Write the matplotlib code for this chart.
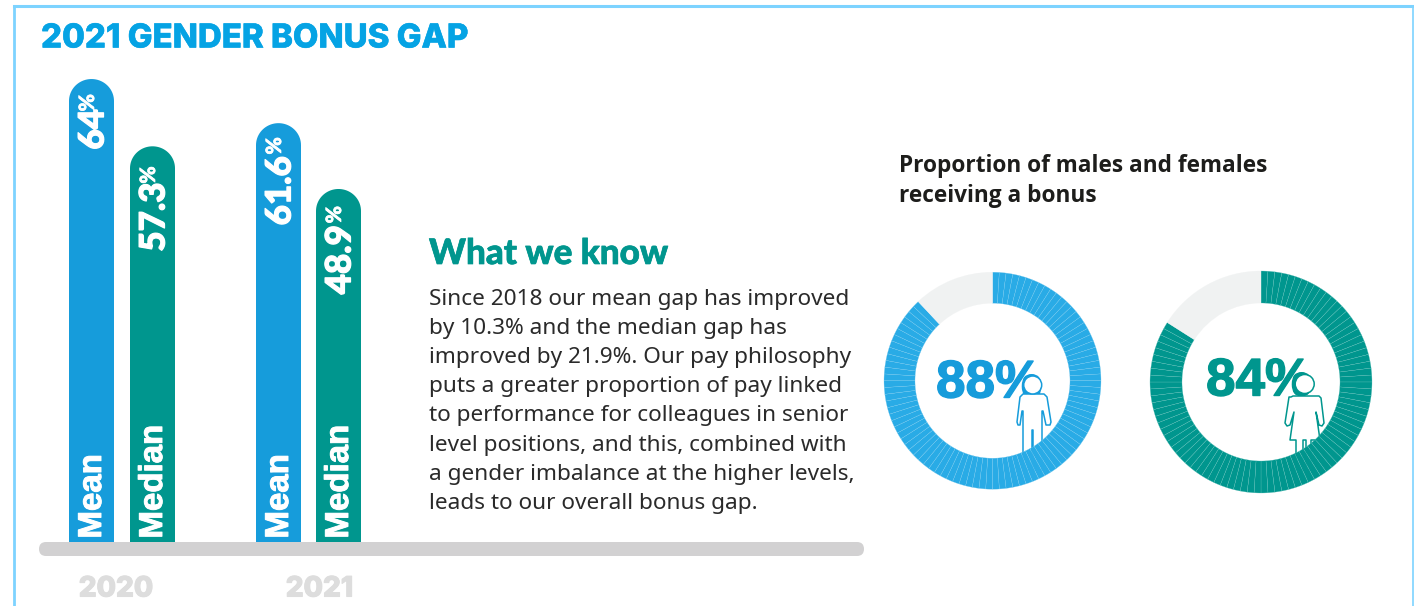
import numpy as np
import matplotlib
matplotlib.use('Agg')
import matplotlib.pyplot as plt
import matplotlib.patheffects as pe
from matplotlib.patches import Circle, FancyBboxPatch, Polygon

W, H = 1414, 606

# bar lengths (they don't quite follow the printed numbers)
bar_heights = [64, 54.7, 57.9, 48.8]
bar_numbers = ['64', '57.3', '61.6', '48.9']
bar_names = ['Mean', 'Median', 'Mean', 'Median']
years = ['2020', '2021']
donut_values = [88, 84]
donut_labels = ['88%', '84%']

title = '2021 GENDER BONUS GAP'
heading = 'What we know'
body_lines = [
    'Since 2018 our mean gap has improved',
    'by 10.3% and the median gap has',
    'improved by 21.9%. Our pay philosophy',
    'puts a greater proportion of pay linked',
    'to performance for colleagues in senior',
    'level positions, and this, combined with',
    'a gender imbalance at the higher levels,',
    'leads to our overall bonus gap.',
]
sub_lines = ['Proportion of males and females', 'receiving a bonus']

BLUE = '#169cdb'
RING_BLUE = '#29abe6'
TEAL = '#00968e'
GREY = '#f0f2f2'
BASE = '#d2d1d2'
YEAR = '#dddddd'
FRAME = '#7dd3ff'
TEXT = '#2a2a2a'


def Y(y):
    return H - y


def px(s):
    # font size in points for a size given in pixels
    return s * 72 / 100


def heavy(col, w=1.0):
    # the installed heavy weights come out too light, fatten them a bit
    return [pe.withStroke(linewidth=w, foreground=col)]


fig = plt.figure(figsize=(W / 100, H / 100), dpi=100)
ax = fig.add_axes([0, 0, 1, 1])

# frame
ax.plot([14, 14], [Y(606), Y(6)], color=FRAME, lw=2.0, zorder=1)
ax.plot([14, 1413], [Y(6), Y(6)], color=FRAME, lw=2.2, zorder=1)
ax.plot([1413, 1413], [Y(6), Y(606)], color=FRAME, lw=1.2, zorder=1)

ax.text(41, Y(39), title, color='#05a3e4', fontsize=px(33), fontweight=800,
        family='Inter', va='center', ha='left', path_effects=heavy('#05a3e4', 0.4))

# baseline
ax.add_patch(FancyBboxPatch((39, Y(556)), 825, 14, boxstyle='round,pad=0,rounding_size=7',
                            lw=0, fc=BASE, zorder=1))
ax.text(116, Y(589), years[0], color=YEAR, fontsize=px(28), fontweight=800, family='Inter',
        ha='center', va='center', path_effects=heavy(YEAR, 0.8))
ax.text(319.5, Y(589), years[1], color=YEAR, fontsize=px(28), fontweight=800, family='Inter',
        ha='center', va='center', path_effects=heavy(YEAR, 0.8))

# middle text
ax.text(429, Y(254), heading, color=TEAL, fontsize=px(35), fontweight=900, family='Lato',
        ha='left', va='center', path_effects=heavy(TEAL, 0.5))
for i, line in enumerate(body_lines):
    ax.text(429, Y(299.5 + i * 29.1), line, color=TEXT, fontsize=px(22.6), family='Noto Sans',
            ha='left', va='center')
for i, line in enumerate(sub_lines):
    ax.text(899, Y(166 + i * 30), line, color='#1d1d1b', fontsize=px(22.6), family='Open Sans',
            fontweight=700, ha='left', va='center')

# donuts: one slice per percent, the thin lines between them are the slice edges
centres = [(992.5, 380.7), (1261, 382)]
radii = [(108.5, 77.5), (111, 79)]
ring_cols = [RING_BLUE, TEAL]
line_cols = ['#7cccf0', '#66c4bd']
text_cols = [BLUE, TEAL]
text_x = [989, 1259]
text_y = [378, 376]
for val, (cx, cy), (ro, ri), rc, lc, lab, tc, tx, ty in zip(donut_values, centres, radii, ring_cols,
                                                            line_cols, donut_labels, text_cols,
                                                            text_x, text_y):
    wedges, _ = ax.pie([1] * val + [100 - val], center=(cx, Y(cy)), radius=ro, startangle=90,
                       counterclock=False, colors=[rc] * val + [GREY], frame=True,
                       wedgeprops=dict(width=ro - ri, edgecolor=lc, linewidth=0.2))
    wedges[-1].set_edgecolor(GREY)
    for w in wedges:
        w.set_zorder(6)
    ax.text(tx, Y(ty), lab, color=tc, fontsize=px(53), fontweight='bold', family='Liberation Sans',
            ha='center', va='center_baseline', zorder=3, path_effects=heavy(tc, 1.0))

# person icons, pushed under the rings
male = [(1017, 422), (1020, 397), (1023, 394), (1044, 394), (1047, 397), (1051, 422),
        (1050, 425), (1046, 425), (1043, 411), (1042, 411), (1042, 470), (1033, 470),
        (1033, 430), (1032, 430), (1032, 470), (1023, 470), (1023, 411), (1022, 411),
        (1020, 425), (1018, 425)]
female = [(1285, 423), (1289, 397), (1291, 397), (1293, 396), (1319, 396), (1321, 398),
          (1324, 423), (1322, 426), (1319, 425), (1316, 412), (1320, 440), (1311, 440),
          (1311, 470), (1306, 470), (1306, 440), (1303, 440), (1303, 470), (1296, 470),
          (1296, 440), (1290, 440), (1294, 412), (1290, 425), (1287, 426)]
ax.add_patch(Polygon([(x, Y(y)) for x, y in male], closed=True, fc='white', ec=BLUE, lw=1.1,
                     zorder=4, joinstyle='round'))
ax.add_patch(Circle((1032.7, Y(385)), 9, fc='white', ec=BLUE, lw=1.1, zorder=5))
ax.add_patch(Polygon([(x, Y(y)) for x, y in female], closed=True, fc='white', ec=TEAL, lw=1.1,
                     zorder=4, joinstyle='round'))
ax.add_patch(Circle((1304.7, Y(384)), 9.5, fc='white', ec=TEAL, lw=1.1, zorder=5))

ax.set_xlim(0, W)
ax.set_ylim(0, H)
ax.set_aspect('auto')
ax.axis('off')

# bars, on their own axes so their length comes from the value scale
PX_PER_UNIT = 7.234
bar_h = 530
ax2 = fig.add_axes([0, (H - 542) / H, 1, bar_h / H], facecolor='none')
ax2.set_xlim(0, W)
ax2.set_ylim(0, bar_h / PX_PER_UNIT)
ax2.axis('off')

bar_x = [91.5, 152.5, 278.5, 338.5]
bar_cols = [BLUE, TEAL, BLUE, TEAL]
pct_off = [15, 20, 14, 17]
num_off = [30, 36, 33, 36]
half = 22.5
ry = 22 / PX_PER_UNIT
t = np.linspace(0, np.pi, 40)
for x, h, col, num, name, po, no in zip(bar_x, bar_heights, bar_cols, bar_numbers, bar_names, pct_off, num_off):
    pts = [(x - half, 0), (x + half, 0)] + [(x + half * np.cos(a), h - ry + ry * np.sin(a)) for a in t]
    ax2.add_patch(Polygon(pts, closed=True, fc=col, ec='none'))
    ax2.text(x + 1, 3.5 / PX_PER_UNIT, name, rotation=90, color='white', fontsize=px(33),
             fontweight='bold', family='Liberation Sans', ha='center', va='bottom',
             path_effects=heavy('white', 0.7))
    # number with small raised percent sign
    ax2.text(x - 4, h - po / PX_PER_UNIT, '%', rotation=90, color='white', fontsize=px(21),
             fontweight=900, family='Lato', ha='center', va='top', path_effects=heavy('white', 0.5))
    ax2.text(x + 2, h - no / PX_PER_UNIT, num, rotation=90, color='white', fontsize=px(35),
             fontweight=900, family='Lato', ha='center', va='top', path_effects=heavy('white', 0.9))

fig.savefig('out.png', dpi=100, facecolor='white')
